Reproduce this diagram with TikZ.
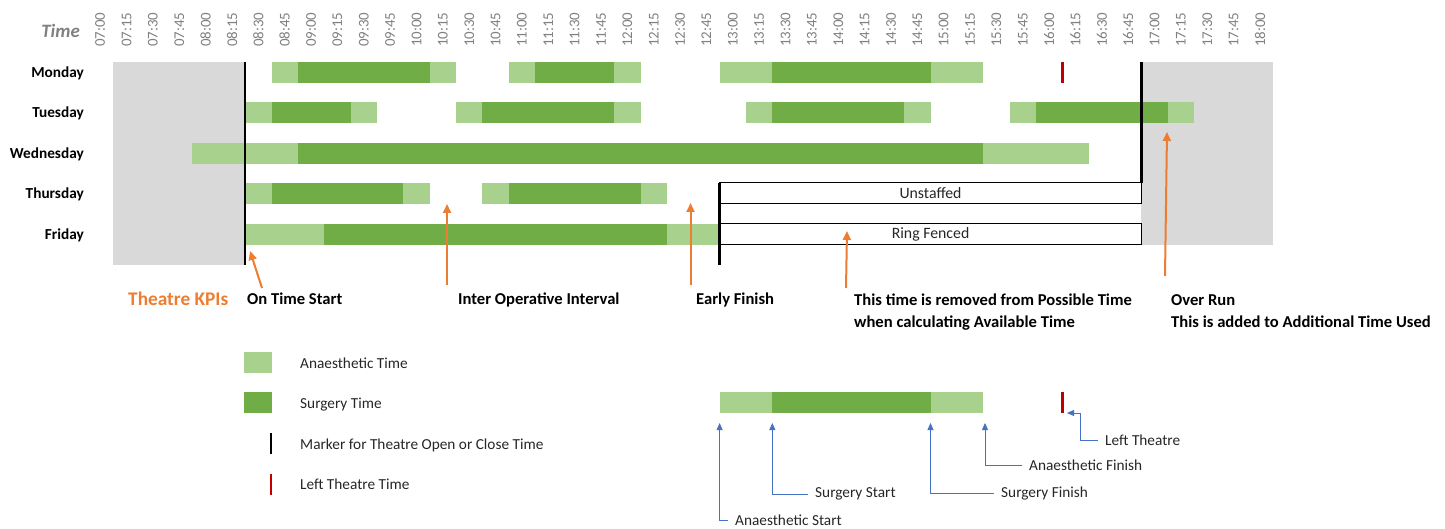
\documentclass[tikz,border=0pt]{standalone}
\usepackage{fontspec}
\setmainfont{Carlito}
\usetikzlibrary{arrows.meta}

\definecolor{anaes}{HTML}{A9D18E}
\definecolor{surg}{HTML}{70AD47}
\definecolor{closed}{HTML}{D9D9D9}
\definecolor{kpi}{HTML}{ED7D31}
\definecolor{callblue}{HTML}{4472C4}
\definecolor{leftred}{HTML}{C00000}
\definecolor{timegray}{HTML}{808080}
\definecolor{ink}{HTML}{262626}

\tikzset{
  tick/.style={rotate=90, anchor=west, inner sep=0pt, text=timegray,
    font=\fontsize{14.9}{16}\selectfont},
  day/.style={anchor=base east, inner sep=0pt, text=black,
    font=\bfseries\fontsize{15.3}{16}\selectfont},
  kpihead/.style={anchor=base west, inner sep=0pt, text=kpi,
    font=\bfseries\fontsize{19.3}{20}\selectfont},
  kpitext/.style={anchor=base west, inner sep=0pt, text=black, align=left,
    font=\bfseries\fontsize{16.6}{22}\selectfont},
  plain/.style={anchor=base west, inner sep=0pt, text=ink,
    font=\fontsize{15.3}{16}\selectfont},
  marker/.style={line width=2.6pt},
  kpiarrow/.style={draw=kpi, line width=2pt, -{Triangle[length=9pt,width=8pt]}},
  callout/.style={draw=callblue, line width=0.8pt,
    {Triangle[length=7pt,width=6pt]}-, shorten >=7pt}
}

\begin{document}
\begin{tikzpicture}[x=1pt,y=-1pt]
  \useasboundingbox (0,0) rectangle (1445,529);

  \node[font=\bfseries\itshape\fontsize{18.9}{20}\selectfont, text=timegray,
    anchor=base east, inner sep=0pt] (time) at (80,38) {Time};

  % DAYS
  \foreach \d [count=\r from 0] in {Monday,Tuesday,Wednesday,Thursday,Friday}
    \node[day] (\d) at (84,{77.4+40.5*\r}) {\d};

  % one unit of x is a 15 minute column from here on
  \begin{scope}[xshift=87pt, x=26.36pt]
    \foreach \k in {0,...,44}{
      \pgfmathtruncatemacro\hh{7+floor(\k/4)}
      \pgfmathtruncatemacro\mm{15*mod(\k,4)}
      \node[tick] (t\k) at (\k+0.5,47)
        {\ifnum\hh<10 0\fi\hh:\ifnum\mm=0 00\else\mm\fi};
    }

    % CLOSED TIME
    \fill[closed] (1,62) rectangle (6,265);
    \fill[closed] (40,62) rectangle (45,245);

    % BARS  row / anaes start / surgery start / surgery end / anaes end
    \foreach \r/\a/\s/\e/\f in {0/7/8/13/14, 0/16/17/20/21, 0/24/26/32/34,
        1/6/7/10/11, 1/14/15/20/21, 1/25/26/31/32, 1/35/36/41/42,
        2/4/8/34/38, 3/6/7/12/13, 3/15/16/21/22, 4/6/9/22/24}{
      \fill[anaes] (\a,{62+40.5*\r}) rectangle (\f,{83+40.5*\r});
      \fill[surg] (\s,{62+40.5*\r}) rectangle (\e,{83+40.5*\r});
    }
    \draw[leftred, marker] (37,62) -- (37,83);

    % UNSTAFFED AND RING FENCED
    \draw[line width=1pt] (24,183) rectangle (40,204);
    \node[plain, anchor=center, font=\fontsize{15.8}{16}\selectfont]
      (unstaffed) at (32,193.5) {Unstaffed};
    \draw[line width=1pt] (24,224) rectangle (40,245);
    \node[plain, anchor=center, font=\fontsize{15.8}{16}\selectfont]
      (ringfenced) at (32,234.5) {Ring Fenced};

    % OPEN AND CLOSE
    \draw[marker] (6,62) -- (6,265);
    \draw[marker] (40,62) -- (40,183);
    \draw[marker] (24,183) -- (24,265);
  \end{scope}

  % NOTES
  \node[kpihead] (kpis) at (128,305.5) {Theatre KPIs};
  \node[kpitext] (ontime) at (247,305) {On Time Start};
  \node[kpitext] (interval) at (458,305) {Inter Operative Interval};
  \node[kpitext] (early) at (696,305) {Early Finish};
  % two line notes sit on the baseline of their last line
  \node[kpitext] (removed) at (854,327)
    {This time is removed from Possible Time\\when calculating Available Time};
  \node[kpitext] (overrun) at (1171,327)
    {Over Run\\This is added to Additional Time Used};

  % ARROWS
  \coordinate (ontimetail) at (262,288);   \coordinate (ontimetip) at (250,251);
  \coordinate (intervaltail) at (447,285); \coordinate (intervaltip) at (447,204);
  \coordinate (earlytail) at (690.5,285);  \coordinate (earlytip) at (690.5,203);
  \coordinate (removedtail) at (846,288);  \coordinate (removedtip) at (847,231);
  \coordinate (overruntail) at (1165,276); \coordinate (overruntip) at (1167,132);
  \draw[kpiarrow] (ontimetail) -- (ontimetip);
  \draw[kpiarrow] (intervaltail) -- (intervaltip);
  \draw[kpiarrow] (earlytail) -- (earlytip);
  \draw[kpiarrow] (removedtail) -- (removedtip);
  \draw[kpiarrow] (overruntail) -- (overruntip);

  % LEGEND
  \fill[anaes] (244,352) rectangle (271.5,373);
  \fill[surg] (244,392) rectangle (271.5,413);
  \draw[marker] (271,433) -- (271,454);
  \draw[marker, leftred] (271,474) -- (271,495);
  \node[plain] (anaestime) at (300,368.7) {Anaesthetic Time};
  \node[plain] (surgtime) at (300,408.7) {Surgery Time};
  \node[plain] (openclose) at (300,449.7) {Marker for Theatre Open or Close Time};
  \node[plain] (lefttime) at (300,489.7) {Left Theatre Time};

  % SAMPLE OPERATION
  \fill[anaes] (719.6,392) rectangle (983.2,413);
  \fill[surg] (772.3,392) rectangle (930.5,413);
  \draw[marker, leftred] (1062.3,392) -- (1062.3,413);

  \coordinate (astip) at (719.6,423);
  \coordinate (sstip) at (772.3,423);
  \coordinate (sftip) at (930.5,423);
  \coordinate (aftip) at (985,423);
  \coordinate (lttip) at (1067,413);
  \node[plain] (anstart) at (735,525.7) {Anaesthetic Start};
  \node[plain] (surgstart) at (815,497.7) {Surgery Start};
  \node[plain] (surgfinish) at (1001,497.7) {Surgery Finish};
  \node[plain] (anfinish) at (1029,470.7) {Anaesthetic Finish};
  \node[plain] (lefttheatre) at (1105,445.7) {Left Theatre};
  \draw[callout] (astip) |- (anstart.west);
  \draw[callout] (sstip) |- (surgstart.west);
  \draw[callout] (sftip) |- (surgfinish.west);
  \draw[callout] (aftip) |- (anfinish.west);
  \draw[callout] (lttip) -- ++(13,0) |- (lefttheatre.west);
\end{tikzpicture}
\end{document}
